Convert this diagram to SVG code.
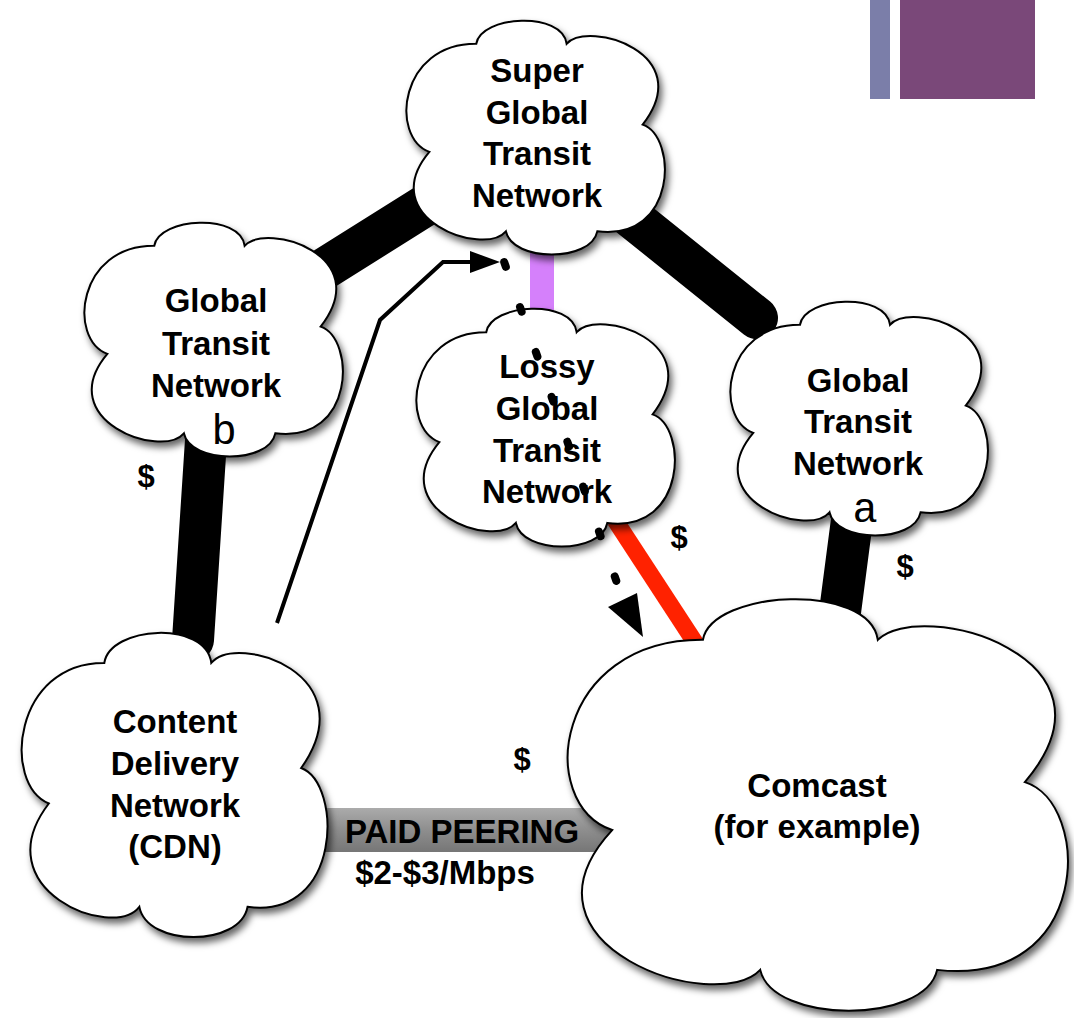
<svg xmlns="http://www.w3.org/2000/svg" xmlns:xlink="http://www.w3.org/1999/xlink" width="1074" height="1018" viewBox="0 0 1074 1018">
  <style>
    .cloud { fill: #ffffff; stroke: #000000; stroke-width: 2; }
    .lbl { font-family: "Liberation Sans", Arial, Helvetica, sans-serif; font-weight: bold; font-size: 33px; fill: #000; text-anchor: middle; }
    .mono { font-family: "Liberation Mono", "Courier New", monospace; font-size: 42px; fill: #000; text-anchor: middle; }
    .dollar { font-family: "Liberation Sans", Arial, sans-serif; font-weight: bold; font-size: 31px; fill: #000; text-anchor: middle; }
    .band { stroke: #000; stroke-width: 42; stroke-linecap: round; fill: none; }
  </style>
  <defs>
    <path id="cloudShape" vector-effect="non-scaling-stroke" d="M27.2,10.2 C29,-2 60,-4 61.7,10.2 C70,0 112,14 90.7,44.9 C104,50 104,95 73.4,90.7 C71,104 41,104 38.5,90.7 C30,102 -12,85 9.3,56.6 C-6,50 -2,10 27.2,10.2 Z"/>
    <filter id="shadow" x="-10%" y="-10%" width="125%" height="125%">
      <feDropShadow dx="3" dy="5" stdDeviation="3.5" flood-color="#000" flood-opacity="0.6"/>
    </filter>
    <linearGradient id="peerGrad" x1="0" y1="0" x2="0" y2="1">
      <stop offset="0" stop-color="#ababab"/>
      <stop offset="0.5" stop-color="#8e8e8e"/>
      <stop offset="1" stop-color="#767676"/>
    </linearGradient>
  </defs>

  <rect x="0" y="0" width="1074" height="1018" fill="#ffffff"/>

  <!-- decorative corner bars -->
  <rect x="870" y="0" width="20" height="99" fill="#7b7ea9"/>
  <rect x="900" y="0" width="135" height="99" fill="#7a4879"/>

  <!-- connectors beneath clouds -->
  <g id="connectors">
    <rect id="paid-peering-bar" x="300" y="808" width="340" height="44" fill="url(#peerGrad)"/>
    <line class="band" x1="214" y1="338" x2="536" y2="136"/>
    <line class="band" x1="560" y1="160" x2="757" y2="318"/>
    <line class="band" x1="206" y1="440" x2="193" y2="640"/>
    <line class="band" x1="852" y1="520" x2="840" y2="612"/>
    <line x1="542" y1="240" x2="542" y2="320" stroke="#d580fb" stroke-width="24"/>
    <line x1="615" y1="520" x2="696" y2="644" stroke="#ff2200" stroke-width="17"/>
  </g>

  <!-- nodes -->
  <g id="node-super" filter="url(#shadow)">
    <use xlink:href="#cloudShape" class="cloud" transform="translate(405,20) scale(2.62,2.33)"/>
  </g>
  <g id="node-transit-b" filter="url(#shadow)">
    <use xlink:href="#cloudShape" class="cloud" transform="translate(83,222) scale(2.62,2.33)"/>
  </g>
  <g id="node-lossy" filter="url(#shadow)">
    <use xlink:href="#cloudShape" class="cloud" transform="translate(415,308) scale(2.62,2.37)"/>
  </g>
  <g id="node-transit-a" filter="url(#shadow)">
    <use xlink:href="#cloudShape" class="cloud" transform="translate(729,301) scale(2.61,2.33)"/>
  </g>
  <g id="node-cdn" filter="url(#shadow)">
    <use xlink:href="#cloudShape" class="cloud" transform="translate(20,632) scale(3.10,3.03)"/>
  </g>
  <g id="node-comcast" filter="url(#shadow)">
    <use xlink:href="#cloudShape" class="cloud" transform="translate(565,598) scale(5.07,4.10)"/>
  </g>

  <!-- labels -->
  <g id="labels">
    <text class="lbl" x="537" y="82">Super</text>
    <text class="lbl" x="537" y="124">Global</text>
    <text class="lbl" x="537" y="165">Transit</text>
    <text class="lbl" x="537" y="207">Network</text>

    <text class="lbl" x="216" y="312">Global</text>
    <text class="lbl" x="216" y="355">Transit</text>
    <text class="lbl" x="216" y="397">Network</text>
    <text class="mono" x="224" y="444">b</text>

    <text class="lbl" x="547" y="378">Lossy</text>
    <text class="lbl" x="547" y="420">Global</text>
    <text class="lbl" x="547" y="462">Transit</text>
    <text class="lbl" x="547" y="503">Network</text>

    <text class="lbl" x="858" y="392">Global</text>
    <text class="lbl" x="858" y="433">Transit</text>
    <text class="lbl" x="858" y="475">Network</text>
    <text class="mono" x="865" y="522">a</text>

    <text class="lbl" x="175" y="733">Content</text>
    <text class="lbl" x="175" y="775">Delivery</text>
    <text class="lbl" x="175" y="817">Network</text>
    <text class="lbl" x="175" y="858">(CDN)</text>

    <text class="lbl" x="817" y="797">Comcast</text>
    <text class="lbl" x="817" y="838">(for example)</text>

    <text class="lbl" x="462" y="843">PAID PEERING</text>
    <text class="lbl" x="445" y="884">$2-$3/Mbps</text>

    <text class="dollar" x="146" y="487">$</text>
    <text class="dollar" x="679" y="548">$</text>
    <text class="dollar" x="905" y="577">$</text>
    <text class="dollar" x="522" y="770">$</text>
  </g>

  <!-- traffic paths drawn over clouds -->
  <g id="traffic">
    <polyline points="277,623 380,320 443,262 474,262" fill="none" stroke="#000" stroke-width="4" stroke-linejoin="miter"/>
    <polygon points="470,251 500,262 470,273" fill="#000"/>
    <line x1="504.2" y1="262.1" x2="616.3" y2="580.9" stroke="#000" stroke-width="8" stroke-linecap="round" stroke-dasharray="5 42.6"/>
    <polygon points="608,607 637,593 643,637" fill="#000"/>
  </g>
</svg>
